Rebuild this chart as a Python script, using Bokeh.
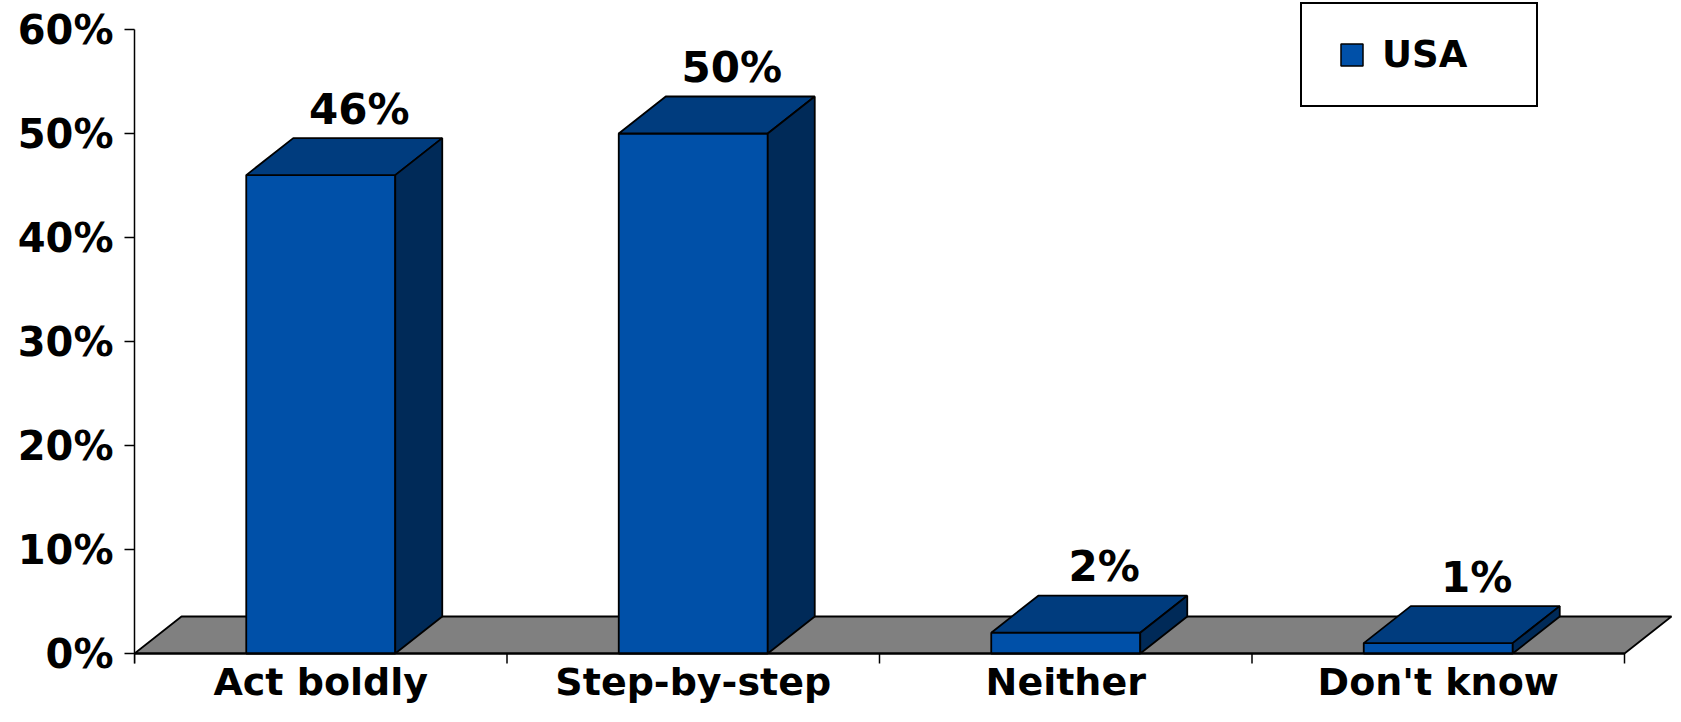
import numpy as np
from bokeh.plotting import figure
from bokeh.models import (Range1d, FixedTicker, ColumnDataSource, Legend,
                          LegendItem)
from bokeh.embed import file_html
from bokeh.resources import INLINE
from bokeh.core.properties import value

# ---------------- data ----------------
categories = ["Act boldly", "Step-by-step", "Neither", "Don't know"]
usa_values = [46, 50, 2, 1]
value_labels = ["46%", "50%", "2%", "1%"]
y_ticks = [0, 10, 20, 30, 40, 50, 60]
y_tick_labels = ["0%", "10%", "20%", "30%", "40%", "50%", "60%"]
series_name = "USA"

# ---------------- style ----------------
FRONT = "#0050A8"
TOPC = "#003C7E"
SIDE = "#002A58"
FLOOR = "#808080"
FONT = "DejaVu Sans"
LW = 1.8

W, H = 1672, 706
LEFT_B = 134
frame_w = W - LEFT_B
frame_h = H

n = len(categories)
px_per_cat = 372.5
px_per_pct = (653 - 29) / 60.0
x_end = frame_w / px_per_cat
y_top = 60 + 29 / px_per_pct          # 60% sits 29px below frame top
y_bot = y_top - frame_h / px_per_pct  # frame runs to canvas bottom

dx = 47 / px_per_cat
dy = 37 / px_per_pct
tick_len = 10 / px_per_pct
half = 0.2

vals = np.array(usa_values, dtype=float)
xc = np.arange(n) + 0.5
x0 = xc - half
x1 = xc + half

p = figure(width=W, height=H, output_backend="svg", toolbar_location=None,
           x_range=Range1d(0, x_end), y_range=Range1d(y_bot, y_top),
           x_axis_location=None,
           min_border_left=LEFT_B, min_border_right=0, min_border_top=0,
           min_border_bottom=0)
p.outline_line_color = None
p.grid.visible = False
p.background_fill_color = "white"
p.border_fill_color = "white"

# floor
p.patch(x=[0, n, n + dx, dx], y=[0, 0, dy, dy], fill_color=FLOOR,
        line_color="black", line_width=LW)

# bars
front_src = ColumnDataSource(dict(left=x0, right=x1, top=vals))
p.quad(left="left", right="right", bottom=0, top="top", source=front_src,
       fill_color=FRONT, line_color="black", line_width=LW)

top_xs = [[a, b, b + dx, a + dx] for a, b in zip(x0, x1)]
top_ys = [[v, v, v + dy, v + dy] for v in vals]
p.patches(xs=top_xs, ys=top_ys, fill_color=TOPC, line_color="black",
          line_width=LW)
side_xs = [[b, b + dx, b + dx, b] for b in x1]
side_ys = [[0, dy, v + dy, v] for v in vals]
p.patches(xs=side_xs, ys=side_ys, fill_color=SIDE, line_color="black",
          line_width=LW)

# category axis: line, boundary ticks, labels
bounds = list(range(n + 1))
p.segment(x0=[0], y0=[0], x1=[n], y1=[0], line_color="black", line_width=LW)
p.segment(x0=bounds, y0=[0] * len(bounds), x1=bounds,
          y1=[-tick_len] * len(bounds), line_color="black", line_width=1.5)
cat_src = ColumnDataSource(dict(x=xc, y=np.zeros(n), t=categories))
p.text(x="x", y="y", text="t", source=cat_src, text_align="center",
       text_baseline="alphabetic", y_offset=28,
       text_font=value(FONT), text_font_style="bold",
       text_font_size="38px", text_color="black")

# value labels
lab_src = ColumnDataSource(dict(x=xc + dx / 2, y=vals + dy, t=value_labels))
p.text(x="x", y="y", text="t", source=lab_src, text_align="center",
       text_baseline="alphabetic", y_offset=-29, x_offset=15,
       text_font=value(FONT), text_font_style="bold",
       text_font_size="42px", text_color="black")

# y axis
ya = p.yaxis[0]
ya.ticker = FixedTicker(ticks=y_ticks)
ya.major_label_overrides = {t: l for t, l in zip(y_ticks, y_tick_labels)}
ya.bounds = (-tick_len, 60)
ya.axis_line_color = "black"
ya.axis_line_width = 1.5
ya.major_tick_line_color = "black"
ya.major_tick_line_width = 1.5
ya.major_tick_in = 0
ya.major_tick_out = 10
ya.minor_tick_line_color = None
ya.major_label_standoff = 11
ya.major_label_text_font = FONT
ya.major_label_text_font_style = "bold"
ya.major_label_text_font_size = "40px"
ya.major_label_text_color = "black"

# legend (canvas pixels)
box_left, box_bottom = 1300, 107
sq = p.scatter(x=[np.nan], y=[np.nan], marker="square", size=22,
               fill_color=FRONT, line_color="black", line_width=1.5)
legend = Legend(items=[LegendItem(label=series_name, renderers=[sq])],
                location=(box_left - LEFT_B, H - box_bottom),
                glyph_width=55, glyph_height=57, label_standoff=3,
                padding=22, label_width=132, margin=0,
                border_line_color="black", border_line_width=2,
                border_line_alpha=1,
                background_fill_color="white", background_fill_alpha=1,
                label_text_font=FONT, label_text_font_style="bold",
                label_text_font_size="37px", label_text_color="black")
p.add_layout(legend)

open("out.html", "w").write(file_html(p, INLINE))
